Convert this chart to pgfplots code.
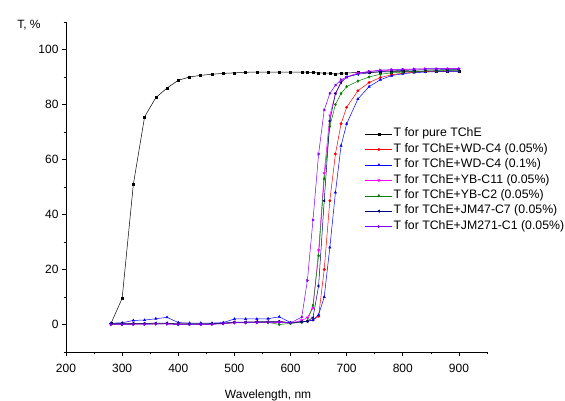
\documentclass[border=0pt]{standalone}
\usepackage{fontspec}
\setmainfont{Liberation Sans}
\usepackage{pgfplots}
\usepackage{pgfplotstable}
\pgfplotsset{compat=1.18}
\definecolor{cnavy}{RGB}{0,0,128}
\definecolor{cgreen}{RGB}{0,128,0}
\definecolor{cmag}{RGB}{255,0,255}
\definecolor{cviolet}{RGB}{128,0,255}

% x, pure, WD-C4 0.05, WD-C4 0.1, YB-C11, YB-C2, JM47-C7, JM271-C1
\pgfplotstableread{
x    blk   red   blue  mag   grn   navy  pur
280  0.3   0.2   0.5   0.0   0.1   0.3   0.0
300  9.5   0.2   0.6   0.0   0.1   0.3   0.0
320  51.0  0.3   1.5   0.1   0.2   0.4   0.1
340  75.5  0.3   1.6   0.1   0.2   0.4   0.1
360  82.5  0.3   2.1   0.2   0.2   0.5   0.2
380  86.0  0.4   2.6   0.2   0.3   0.5   0.2
400  88.8  0.2   0.7   0.0   0.1   0.2   0.0
420  90.0  0.2   0.5   0.0   0.1   0.2   0.0
440  90.6  0.2   0.5   0.0   0.1   0.2   0.0
460  91.0  0.2   0.5   0.1   0.2   0.3   0.1
480  91.3  0.4   0.7   0.3   0.4   0.5   0.3
500  91.5  0.8   2.0   0.6   0.7   0.9   0.7
520  91.7  0.8   2.0   0.6   0.7   0.9   0.7
540  91.8  0.9   2.0   0.7   0.8   1.0   0.7
560  91.8  0.9   2.1   0.7   0.8   1.0   0.8
580  91.8  1.0   2.8   0.8   0.0   1.2   0.8
600  91.8  0.5   0.7   0.5   0.4   0.6   0.6
620  91.8  1.0   1.0   1.5   0.8   1.0   2.7
630  91.7  1.2   1.2   2.5   1.2   1.2   16
640  91.6  1.6   1.6   6     7     2.5   38
650  91.5  3     3.5   27    25    14    62
660  91.4  20    10    55    53    45    78
670  91.4  45    28    76    72    74    84
680  91.0  62    48    84    80    84    87
690  91.3  73    65    88    84    88    89
700  91.5  79    73    90    86.5  90    90
720  91.6  85    82    91.5  88.5  91    91.2
740  91.7  88    86.5  92    90    91.5  92
760  91.8  89.8  89    92.3  91    92    92.5
780  91.9  90.8  90.5  92.5  91.5  92.2  92.7
800  92.0  91.4  91.2  92.7  91.8  92.4  92.8
820  92.0  91.7  91.6  92.8  92.0  92.5  92.9
840  92.1  91.9  91.8  92.9  92.2  92.6  93.0
860  92.1  92.0  91.9  93.0  92.3  92.6  93.0
880  92.2  92.1  92.0  93.0  92.4  92.7  93.0
900  92.2  92.1  92.0  93.0  92.5  92.7  93.0
}\data

\begin{document}
\begin{tikzpicture}
\useasboundingbox (0,0) rectangle (565pt,401pt);
\begin{axis}[
  at={(66pt,49pt)}, anchor=south west,
  scale only axis, width=421pt, height=330pt,
  xmin=200, xmax=950, ymin=-10, ymax=110,
  axis lines=left, axis line style={-, line width=0.6pt},
  tick align=outside, major tick length=4pt, minor tick length=2.5pt,
  tick style={line width=0.6pt, black},
  xtick={200,300,...,900}, minor xtick={250,350,...,950},
  ytick={0,20,...,100}, minor ytick={-10,10,...,110},
  font=\fontsize{12}{14}\selectfont,
  /pgf/number format/assume math mode=true,
  every tick label/.append style={font=\fontsize{12}{14}\selectfont},
  xticklabel style={yshift=-5pt},
  xlabel={Wavelength, nm}, ylabel={T, \%},
  every axis x label/.style={at={(axis description cs:0.48,-0.133)}, anchor=center},
  every axis y label/.style={at={(axis description cs:-0.088,0.99)}, anchor=center},
  every axis plot/.append style={line width=0.5pt},
  mark size=1.3pt,
  legend cell align=left,
  legend style={draw=none, fill=none, at={(axis description cs:0.71,0.684)}, anchor=north west,
    inner sep=0pt, font=\fontsize{12.3}{14}\selectfont,
    nodes={inner sep=1pt, text height=9.5pt, text depth=3.9pt}},
  legend image code/.code={\draw[mark repeat=2,mark phase=2] plot coordinates {(0pt,0pt) (13.5pt,0pt) (27pt,0pt)};},
]
\addplot[black, mark=square*, mark size=1pt] table[x=x, y=blk] {\data};
\addplot[red, mark=*, mark size=1.2pt] table[x=x, y=red] {\data};
\addplot[blue, mark=triangle*] table[x=x, y=blue] {\data};
\addplot[cmag, mark=triangle*, mark options={rotate=180}] table[x=x, y=mag] {\data};
\addplot[cgreen, mark=diamond*] table[x=x, y=grn] {\data};
\addplot[cnavy, mark=triangle*, mark options={rotate=90}] table[x=x, y=navy] {\data};
\addplot[cviolet, mark=triangle*, mark options={rotate=-90}] table[x=x, y=pur] {\data};
\legend{T for pure TChE, T for TChE+WD-C4 (0.05\%), T for TChE+WD-C4 (0.1\%), T for TChE+YB-C11 (0.05\%), T for TChE+YB-C2 (0.05\%), T for TChE+JM47-C7 (0.05\%), T for TChE+JM271-C1 (0.05\%)}
\end{axis}
\end{tikzpicture}
\end{document}
